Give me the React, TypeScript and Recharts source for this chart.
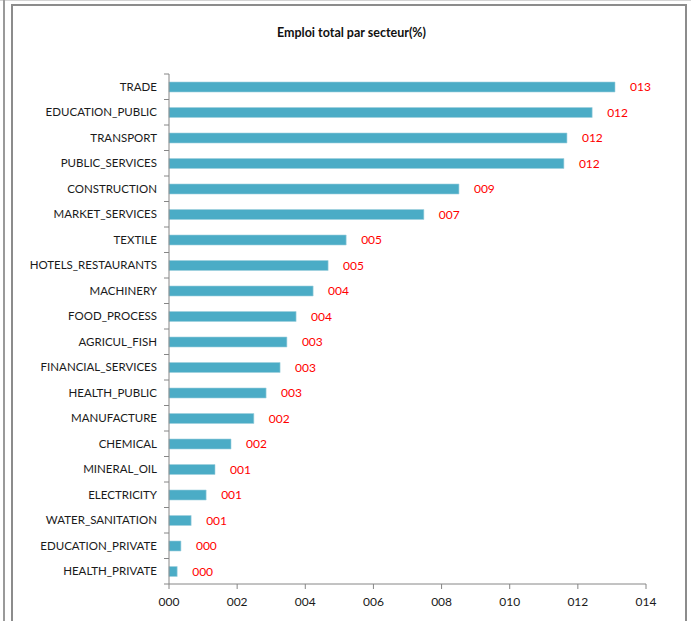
import { BarChart, Bar, XAxis, YAxis, LabelList } from "recharts";

const sectors = [
  "TRADE",
  "EDUCATION_PUBLIC",
  "TRANSPORT",
  "PUBLIC_SERVICES",
  "CONSTRUCTION",
  "MARKET_SERVICES",
  "TEXTILE",
  "HOTELS_RESTAURANTS",
  "MACHINERY",
  "FOOD_PROCESS",
  "AGRICUL_FISH",
  "FINANCIAL_SERVICES",
  "HEALTH_PUBLIC",
  "MANUFACTURE",
  "CHEMICAL",
  "MINERAL_OIL",
  "ELECTRICITY",
  "WATER_SANITATION",
  "EDUCATION_PRIVATE",
  "HEALTH_PRIVATE",
];

const shares = [
  13.09, 12.42, 11.68, 11.59, 8.51, 7.48, 5.2, 4.67, 4.23, 3.73, 3.46, 3.26,
  2.85, 2.49, 1.82, 1.35, 1.09, 0.65, 0.35, 0.24,
];

const xTicks = [0, 2, 4, 6, 8, 10, 12, 14];

const data = sectors.map((name, i) => ({ name, value: shares[i] }));

const FONT = "Lato, 'Open Sans', sans-serif";
const AXIS = "#868686";
const BAND = 510 / sectors.length;

const pad3 = (v: number) => String(Math.round(v)).padStart(3, "0");

const SectorTick = ({ x, y, payload, index }: any) => {
  const ax = x + 12;
  return (
    <g>
      <line x1={ax - 5} x2={ax} y1={y - BAND / 2} y2={y - BAND / 2} stroke={AXIS} />
      {index === sectors.length - 1 && (
        <line x1={ax - 5} x2={ax} y1={y + BAND / 2} y2={y + BAND / 2} stroke={AXIS} />
      )}
      <text x={x} y={y} dy={4} textAnchor="end" fontSize={11.5} fill="#1a1a1a" fontFamily={FONT}>
        {payload.value}
      </text>
    </g>
  );
};

export default function App() {
  return (
    <div style={{ position: "relative", width: 691, height: 621, background: "#fff", overflow: "hidden" }}>
      <style>{"body{margin:0}"}</style>
      {/* frame around the chart, as in the sheet screenshot */}
      <svg width={691} height={621} style={{ position: "absolute", left: 0, top: 0 }}>
        <line x1={0} x2={691} y1={0.5} y2={0.5} stroke="#d4d4d4" />
        <line x1={4} x2={4} y1={0} y2={621} stroke="#9a9a9a" strokeWidth={2} />
        <path d="M12 625 V5 H686 V625" fill="none" stroke="#8c8c8c" strokeWidth={2} />
      </svg>
      <div
        style={{
          position: "absolute",
          left: 0,
          width: 691,
          top: 25,
          textAlign: "center",
          fontFamily: FONT,
          fontWeight: 700,
          fontSize: 12.5,
          color: "#111",
          paddingLeft: 12,
          boxSizing: "border-box",
        }}
      >
        Emploi total par secteur(%)
      </div>
      <div style={{ position: "absolute", left: 0, top: 0 }}>
        <BarChart
          width={691}
          height={621}
          data={data}
          layout="vertical"
          margin={{ top: 74, right: 45, bottom: 7, left: 9 }}
          barCategoryGap={0}
        >
          <XAxis
            type="number"
            domain={[0, 14]}
            ticks={xTicks}
            interval={0}
            height={30}
            tickFormatter={pad3}
            stroke={AXIS}
            tickSize={5}
            tickMargin={8}
            tick={{ fill: "#1a1a1a", fontSize: 12, fontFamily: FONT }}
          />
          <YAxis
            type="category"
            dataKey="name"
            width={160}
            interval={0}
            tickLine={false}
            tickSize={5}
            tickMargin={7}
            stroke={AXIS}
            tick={<SectorTick />}
          />
          <Bar dataKey="value" fill="#4BACC6" stroke="#9fd0de" strokeWidth={0.6} barSize={10} isAnimationActive={false}>
            <LabelList
              dataKey="value"
              position="right"
              offset={15}
              formatter={(v: any) => pad3(Number(v))}
              fill="#ff0000"
              fontSize={12}
              fontFamily={FONT}
            />
          </Bar>
        </BarChart>
      </div>
    </div>
  );
}
